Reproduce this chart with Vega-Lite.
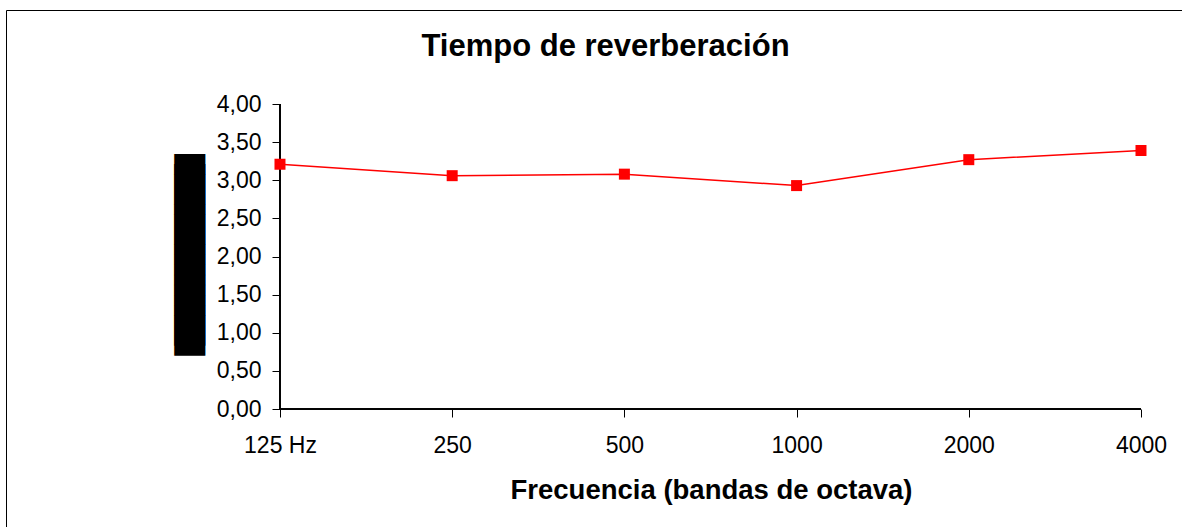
{
  "$schema": "https://vega.github.io/schema/vega-lite/v6.json",
  "width": 1176,
  "height": 517,
  "autosize": {"type": "none"},
  "padding": {"left": 6, "top": 10, "right": 0, "bottom": 0},
  "background": "#ffffff",
  "config": {"view": {"stroke": null}, "font": "Liberation Sans"},
  "title": {
    "text": "Tiempo de reverberación",
    "font": "Liberation Sans",
    "fontSize": 31,
    "fontWeight": "bold",
    "color": "#000000",
    "anchor": "middle",
    "frame": "group",
    "offset": -53,
    "dx": 11.5
  },
  "data": {
    "values": [
      {"freq": "125 Hz", "rt": 3.21},
      {"freq": "250", "rt": 3.06},
      {"freq": "500", "rt": 3.08},
      {"freq": "1000", "rt": 2.93},
      {"freq": "2000", "rt": 3.27},
      {"freq": "4000", "rt": 3.39}
    ]
  },
  "resolve": {"axis": {"x": "independent", "y": "independent"}},
  "layer": [
    {
      "mark": {"type": "rule", "color": "#000000", "strokeWidth": 1},
      "encoding": {
        "x": {"datum": "125 Hz", "type": "nominal",
          "scale": {"type": "point", "domain": ["125 Hz", "250", "500", "1000", "2000", "4000"], "padding": 0.91463, "align": 0.8698},
          "axis": {"orient": "top", "offset": 0, "domain": true, "domainColor": "#000000", "domainWidth": 1, "ticks": false, "labels": false, "grid": false, "title": null}},
        "x2": {"datum": "4000"},
        "y": {"datum": 0, "type": "quantitative",
          "axis": {"orient": "left", "offset": 0, "domain": true, "domainColor": "#000000", "domainWidth": 1, "ticks": false, "labels": false, "grid": false,
            "title": "█████████",
            "titleFont": "DejaVu Sans",
            "titleFontSize": 26.2,
            "titleFontWeight": "normal",
            "titleColor": "#000000",
            "titleAngle": 270,
            "titleAlign": "center",
            "titleBaseline": "middle",
            "titleX": 184.5,
            "titleY": 244.5}}
      }
    },
    {
      "mark": {"type": "rule", "color": "#000000", "strokeWidth": 1},
      "encoding": {
        "x": {"datum": "125 Hz", "type": "nominal", "axis": null},
        "y": {"datum": 0, "type": "quantitative", "axis": null},
        "y2": {"datum": 4}
      }
    },
    {
      "mark": {
        "type": "line",
        "color": "#ff0000",
        "strokeWidth": 1.5,
        "point": {"shape": "square", "filled": true, "size": 121, "color": "#ff0000"}
      },
      "encoding": {
        "x": {
          "field": "freq",
          "type": "nominal",
          "sort": null,
          "scale": {"type": "point", "domain": ["125 Hz", "250", "500", "1000", "2000", "4000"], "padding": 0.91463, "align": 0.8698},
          "axis": {
            "orient": "bottom",
            "offset": -118,
            "domain": false,
            "grid": false,
            "ticks": true,
            "tickSize": 8,
            "tickColor": "#000000",
            "tickWidth": 1,
            "labelAngle": 0,
            "labelFont": "Liberation Sans",
            "labelFontSize": 23,
            "labelColor": "#000000",
            "labelPadding": 17,
            "title": "Frecuencia (bandas de octava)",
            "titleFont": "Liberation Sans",
            "titleFontSize": 27.5,
            "titleFontWeight": "bold",
            "titleColor": "#000000",
            "titleBaseline": "alphabetic",
            "titleX": 705,
            "titleY": 89,
            "titleAnchor": null
          }
        },
        "y": {
          "field": "rt",
          "type": "quantitative",
          "scale": {"domain": [-1.5475, 5.2328], "nice": false, "zero": false},
          "axis": {
            "orient": "left",
            "offset": -274,
            "domain": false,
            "grid": false,
            "values": [0, 0.5, 1, 1.5, 2, 2.5, 3, 3.5, 4],
            "labelExpr": "replace(format(datum.value, '.2f'), '.', ',')",
            "tickSize": 8,
            "tickColor": "#000000",
            "tickWidth": 1,
            "labelFont": "Liberation Sans",
            "labelFontSize": 23,
            "labelColor": "#000000",
            "labelPadding": 11,
            "title": "██████████",
            "titleFont": "DejaVu Sans",
            "titleFontSize": 26.2,
            "titleFontWeight": "normal",
            "titleColor": "#000000",
            "titleAngle": 270,
            "titleAlign": "center",
            "titleBaseline": "middle",
            "titleX": -89.5,
            "titleY": 244.5
          }
        }
      }
    }
  ]
}
